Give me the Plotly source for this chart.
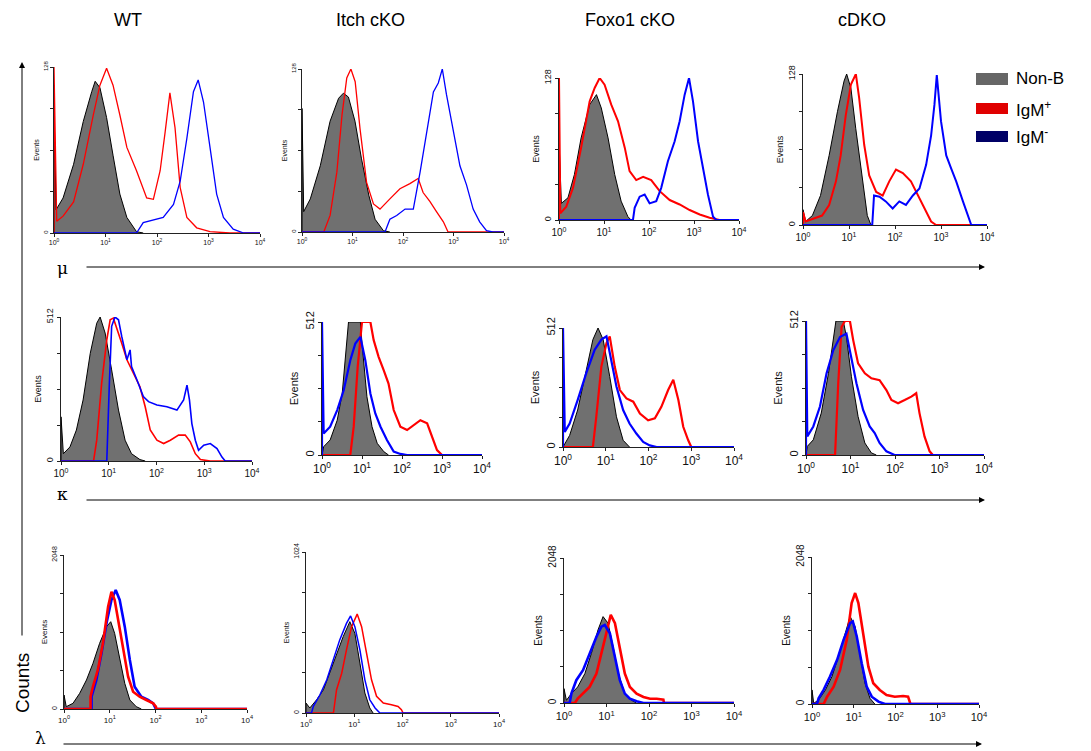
import plotly.graph_objects as go

W, H = 1091, 751

# ---------------- column / row labels ----------------
columns = ["WT", "Itch cKO", "Foxo1 cKO", "cDKO"]
rows = ["μ", "κ", "λ"]
series_names = ["Non-B", "IgM<sup>+</sup>", "IgM<sup>-</sup>"]
x_tick_vals = [1, 10, 100, 1000, 10000]
x_tick_text = ["10<sup>0</sup>", "10<sup>1</sup>", "10<sup>2</sup>", "10<sup>3</sup>", "10<sup>4</sup>"]
y_max = [128, 128, 128, 128, 512, 512, 512, 512, 2048, 1024, 2048, 2048]

# ---------------- data (intensity, events) ----------------
# Row 1 : mu
p1_nonb_x = [1, 1, 1.1, 1.5, 2.4, 3.7, 5.4, 6.3, 7.8, 10.5, 14, 19, 26, 40, 54]
p1_nonb_y = [0, 98, 18, 27, 53, 86, 109, 117, 112, 89, 60, 30, 12, 1, 0]
p1_igmp_x = [1, 1, 1.13, 1.5, 2.4, 3.7, 5.8, 7.8, 10.5, 14, 19, 26, 40, 63, 85, 115, 144, 178, 224, 282, 380, 590, 1070, 2600, 10000]
p1_igmp_y = [0, 128, 9, 13, 24, 53, 91, 114, 127, 114, 91, 66, 48, 27, 26, 48, 78, 108, 81, 35, 12, 4, 1, 0, 0]
p1_igmn_x = [1, 40, 54, 85, 132, 209, 282, 380, 510, 630, 800, 1070, 1440, 1950, 3020, 4800, 10000]
p1_igmn_y = [0, 0, 8, 10, 12, 22, 40, 73, 109, 118, 101, 66, 30, 12, 3, 0, 0]

p2_nonb_x = [1, 1, 1.08, 1.46, 2.3, 3.6, 5.3, 6.6, 8.3, 11.2, 15, 21, 28, 41, 55]
p2_nonb_y = [0, 97, 16, 26, 52, 87, 105, 109, 106, 87, 58, 29, 10, 1, 0]
p2_igmp_x = [1, 2.7, 3.6, 4.9, 6.2, 7.7, 9.3, 11.3, 14.1, 19, 26, 35, 55, 87, 137, 200, 250, 340, 460, 630, 780, 10000]
p2_igmp_y = [0, 0, 13, 47, 92, 121, 128, 118, 81, 39, 22, 18, 26, 34, 38, 42, 31, 24, 16, 8, 0, 0]
p2_igmn_x = [1, 44, 55, 75, 110, 160, 218, 295, 400, 500, 600, 725, 980, 1340, 1810, 2450, 3300, 4500, 6000, 10000]
p2_igmn_y = [0, 0, 10, 13, 18, 18, 47, 79, 110, 117, 128, 108, 79, 52, 37, 18, 8, 1, 0, 0]

p3_nonb_x = [1, 1, 1.13, 1.58, 2.2, 3.1, 4.8, 6.8, 8.7, 12.3, 17.3, 24, 34, 40]
p3_nonb_y = [0, 72, 15, 20, 41, 74, 104, 113, 101, 74, 41, 17, 3, 0]
p3_igmp_x = [1, 1, 1.07, 1.45, 2.05, 3.1, 4.8, 6.2, 8, 10.3, 14.5, 20.5, 29, 37, 52, 74, 112, 173, 288, 480, 800, 1340, 2220, 3700, 10000]
p3_igmp_y = [0, 128, 6, 12, 29, 65, 107, 119, 128, 122, 104, 89, 65, 44, 36, 39, 36, 26, 18, 14, 9, 5, 2, 0, 0]
p3_igmn_x = [1, 44, 48, 62, 80, 103, 145, 187, 263, 372, 480, 620, 775, 950, 1230, 1590, 2040, 2650, 3150, 10000]
p3_igmn_y = [0, 0, 11, 21, 23, 15, 17, 29, 53, 71, 89, 113, 128, 107, 71, 47, 23, 3, 0, 0]

p4_nonb_x = [1, 1, 1.14, 1.6, 2.4, 3.7, 5.6, 7.8, 8.9, 11, 14, 19.7, 25, 30]
p4_nonb_y = [0, 13, 3, 8, 25, 59, 96, 122, 128, 116, 82, 37, 8, 0]
p4_igmp_x = [1, 1, 1.14, 1.9, 2.6, 3.7, 5.2, 6.6, 8.5, 11, 14.1, 16.6, 21.4, 27.5, 39, 54, 75, 105, 148, 222, 340, 475, 610, 780, 10000]
p4_igmp_y = [0, 11, 3, 6, 8, 17, 37, 59, 93, 119, 128, 108, 68, 42, 28, 25, 37, 47, 44, 37, 23, 11, 3, 0, 0]
p4_igmn_x = [1, 32, 35, 46, 63, 89, 124, 173, 245, 340, 475, 610, 720, 810, 1000, 1300, 1660, 2140, 3000, 3880, 4550, 10000]
p4_igmn_y = [0, 0, 25, 24, 20, 14, 20, 17, 25, 31, 51, 76, 102, 127, 88, 59, 48, 37, 20, 8, 0, 0]

# Row 2 : kappa
p5_nonb_x = [1, 1, 1.12, 1.54, 2.1, 2.9, 4.1, 5.6, 6.6, 8.4, 11.5, 16, 22, 30, 45, 58]
p5_nonb_y = [0, 157, 26, 50, 110, 217, 383, 490, 512, 455, 324, 181, 74, 26, 5, 0]
p5_igmp_x = [1, 4.8, 5.6, 7.1, 9.1, 10.7, 12.5, 15.2, 18.7, 24, 33, 45, 58, 74, 102, 141, 195, 290, 400, 510, 650, 830, 1340, 10000]
p5_igmp_y = [0, 0, 74, 276, 431, 502, 508, 467, 419, 360, 312, 264, 193, 110, 74, 62, 74, 92, 92, 68, 26, 5, 0, 0]
p5_igmn_x = [1, 9.1, 10.3, 11.5, 13.5, 16, 18.7, 24, 28, 30, 39, 53, 68, 102, 165, 268, 370, 435, 490, 550, 650, 760, 975, 1340, 1850, 2350, 2750, 10000]
p5_igmn_y = [0, 0, 276, 479, 512, 502, 443, 360, 395, 336, 288, 229, 211, 199, 193, 181, 217, 270, 217, 133, 74, 38, 56, 62, 44, 14, 0, 0]

p6_nonb_x = [1, 1.1, 1.6, 2.4, 3.2, 3.8, 4.6, 9.1, 10, 13.3, 17.8, 24, 35, 46]
p6_nonb_y = [0, 32, 58, 134, 237, 365, 512, 512, 429, 224, 109, 45, 13, 0]
p6_igmp_x = [1, 5.1, 6.2, 7.8, 10, 16.2, 19.6, 26, 35, 46, 62, 91, 134, 196, 288, 425, 560, 750, 1000, 10000]
p6_igmp_y = [0, 0, 109, 339, 512, 512, 442, 378, 326, 275, 173, 109, 96, 115, 134, 122, 70, 19, 0, 0]
p6_igmn_x = [1, 1, 1.1, 1.6, 2.4, 3.5, 5.1, 6.8, 9.1, 12.1, 16.2, 21.5, 29, 42, 62, 91, 134, 10000]
p6_igmn_y = [0, 512, 83, 109, 173, 250, 365, 429, 455, 365, 237, 160, 109, 58, 13, 4, 0, 0]

p7_nonb_x = [1, 1.1, 1.43, 2.2, 3.5, 5.0, 6.6, 8.7, 12.4, 17.8, 25.5, 36]
p7_nonb_y = [0, 14, 50, 159, 332, 462, 512, 462, 303, 130, 29, 0]
p7_igmp_x = [1, 5.0, 6.0, 7.9, 10.4, 12.4, 16.2, 21.4, 30.5, 44, 63, 98, 141, 200, 288, 380, 500, 650, 850, 1000, 10000]
p7_igmp_y = [0, 0, 130, 346, 447, 476, 346, 245, 209, 195, 144, 115, 123, 173, 245, 289, 202, 87, 29, 0, 0]
p7_igmn_x = [1, 1, 1.1, 1.43, 2.2, 3.5, 5.5, 7.9, 10.4, 13.6, 17.8, 25.5, 36, 52, 75, 107, 155, 10000]
p7_igmn_y = [0, 512, 65, 101, 202, 318, 418, 462, 476, 375, 260, 159, 101, 58, 22, 7, 0, 0]

p8_nonb_x = [1, 1.07, 1.46, 2.2, 3.2, 4.1, 4.7, 6.9, 8.1, 10.5, 14.8, 21, 29.5, 38]
p8_nonb_y = [0, 33, 58, 160, 312, 451, 512, 512, 451, 299, 147, 46, 8, 0]
p8_igmp_x = [1, 4.5, 5.3, 6.3, 7.5, 9.7, 11.5, 14.8, 21, 29.5, 45, 64, 83, 117, 165, 233, 300, 355, 460, 600, 710, 10000]
p8_igmp_y = [0, 0, 274, 489, 512, 512, 439, 350, 312, 293, 286, 248, 210, 198, 210, 223, 236, 160, 71, 14, 0, 0]
p8_igmn_x = [1, 1, 1.07, 1.46, 2.06, 2.9, 4.1, 5.8, 8.1, 10.5, 13.6, 19.2, 27, 35, 45, 64, 98, 10000]
p8_igmn_y = [0, 512, 71, 109, 185, 312, 400, 451, 464, 375, 274, 172, 109, 84, 46, 14, 0, 0]

# Row 3 : lambda
p9_nonb_x = [1, 1, 1.12, 1.57, 2.2, 3.1, 4.3, 6.0, 8.5, 10.5, 12.8, 16.5, 21.3, 27.5, 38, 49]
p9_nonb_y = [0, 186, 31, 75, 208, 386, 607, 873, 1095, 1161, 1006, 696, 341, 120, 31, 0]
p9_igmp_x = [1, 3.8, 3.8, 4.3, 5.5, 7.1, 9.2, 10.9, 12.8, 15.2, 19.6, 25.2, 32.4, 45, 63, 89, 102, 105, 10000]
p9_igmp_y = [0, 0, 164, 297, 519, 873, 1361, 1560, 1450, 1183, 785, 430, 230, 164, 120, 75, 31, 0, 0]
p9_igmn_x = [1, 4.0, 4.0, 5.1, 6.6, 8.5, 10.9, 13.5, 16.5, 21.3, 27.5, 35, 49, 69, 89, 102, 10000]
p9_igmn_y = [0, 0, 164, 386, 740, 1139, 1450, 1582, 1450, 1095, 652, 297, 164, 120, 75, 0, 0]

p10_nonb_x = [1, 1, 1.2, 1.66, 2.3, 3.1, 4.3, 5.9, 8.1, 10.3, 13.1, 16.6, 21, 24.6]
p10_nonb_y = [0, 63, 32, 84, 148, 253, 380, 486, 581, 507, 317, 127, 32, 0]
p10_igmp_x = [1, 3.7, 4.3, 5.5, 6.9, 8.8, 11.5, 14.2, 18.0, 22.8, 29, 40, 59, 81, 95, 103, 10000]
p10_igmp_y = [0, 0, 148, 253, 401, 549, 629, 549, 380, 211, 106, 63, 53, 42, 21, 0, 0]
p10_igmn_x = [1, 1.3, 1.42, 1.95, 2.7, 3.7, 5.0, 6.9, 8.4, 10.3, 13.1, 16.6, 21, 27, 34, 10000]
p10_igmn_y = [0, 0, 42, 116, 211, 338, 465, 570, 617, 549, 401, 211, 84, 32, 0, 0]

p11_nonb_x = [1, 1, 1.14, 1.49, 2.1, 3.1, 4.4, 6.3, 8.3, 10.9, 14.3, 19, 27, 39, 51]
p11_nonb_y = [0, 203, 38, 132, 227, 416, 700, 1031, 1220, 1126, 795, 416, 132, 38, 0]
p11_igmp_x = [1, 1.8, 2.1, 2.8, 4.0, 5.8, 7.6, 10, 12.6, 15.8, 20.6, 27, 35.5, 51, 74, 106, 152, 218, 225, 10000]
p11_igmp_y = [0, 0, 61, 132, 227, 416, 700, 1031, 1244, 1126, 795, 416, 227, 132, 85, 61, 61, 47, 0, 0]
p11_igmn_x = [1, 1.36, 1.49, 1.95, 2.8, 4.0, 5.8, 7.6, 9.1, 12, 15.8, 20.6, 27, 35.5, 51, 74, 10000]
p11_igmn_y = [0, 0, 132, 322, 464, 700, 937, 1079, 1102, 984, 653, 322, 132, 61, 24, 0, 0]

p12_nonb_x = [1, 1, 1.1, 1.44, 2.1, 3.0, 4.3, 6.2, 8.2, 10.8, 14.1, 18.6, 24.5, 32]
p12_nonb_y = [0, 196, 10, 56, 196, 382, 661, 987, 1220, 1080, 708, 289, 79, 0]
p12_igmp_x = [1, 1.9, 2.3, 3.3, 4.7, 6.8, 8.9, 10.8, 12.9, 17, 22.4, 29.4, 42, 61, 96, 152, 200, 228, 10000]
p12_igmp_y = [0, 0, 102, 242, 475, 894, 1406, 1546, 1406, 940, 521, 289, 196, 126, 102, 112, 102, 0, 0]
p12_igmn_x = [1, 1.32, 1.44, 1.9, 2.7, 4.0, 5.7, 8.2, 9.5, 11.8, 15.5, 20.4, 27, 39, 56, 10000]
p12_igmn_y = [0, 0, 79, 196, 382, 615, 894, 1127, 1150, 940, 568, 242, 102, 33, 0, 0]

panel_data = [
    (p1_nonb_x, p1_nonb_y, p1_igmp_x, p1_igmp_y, p1_igmn_x, p1_igmn_y),
    (p2_nonb_x, p2_nonb_y, p2_igmp_x, p2_igmp_y, p2_igmn_x, p2_igmn_y),
    (p3_nonb_x, p3_nonb_y, p3_igmp_x, p3_igmp_y, p3_igmn_x, p3_igmn_y),
    (p4_nonb_x, p4_nonb_y, p4_igmp_x, p4_igmp_y, p4_igmn_x, p4_igmn_y),
    (p5_nonb_x, p5_nonb_y, p5_igmp_x, p5_igmp_y, p5_igmn_x, p5_igmn_y),
    (p6_nonb_x, p6_nonb_y, p6_igmp_x, p6_igmp_y, p6_igmn_x, p6_igmn_y),
    (p7_nonb_x, p7_nonb_y, p7_igmp_x, p7_igmp_y, p7_igmn_x, p7_igmn_y),
    (p8_nonb_x, p8_nonb_y, p8_igmp_x, p8_igmp_y, p8_igmn_x, p8_igmn_y),
    (p9_nonb_x, p9_nonb_y, p9_igmp_x, p9_igmp_y, p9_igmn_x, p9_igmn_y),
    (p10_nonb_x, p10_nonb_y, p10_igmp_x, p10_igmp_y, p10_igmn_x, p10_igmn_y),
    (p11_nonb_x, p11_nonb_y, p11_igmp_x, p11_igmp_y, p11_igmn_x, p11_igmn_y),
    (p12_nonb_x, p12_nonb_y, p12_igmp_x, p12_igmp_y, p12_igmn_x, p12_igmn_y),
]

# ---------------- layout geometry (pixels) ----------------
# left, right, top, bottom of each plot area
panel_px = [
    (54, 260, 67, 233), (302, 504, 69, 232), (559, 739, 78, 220), (803, 987, 74, 225),
    (61, 252, 317, 461), (322, 482, 322, 455), (563, 734, 328, 447), (806, 984, 321, 455),
    (64, 247, 555, 709), (306, 499, 552, 713), (564, 734, 558, 703), (812, 979, 557, 704),
]
tick_font = [6, 6, 9, 9, 9, 11, 11, 11, 7, 7, 10, 10]
title_font = [7, 7, 9, 9, 9, 11, 11, 11, 8, 7, 10, 10]
line_w = [1.3, 1.3, 2, 2, 1.6, 2.2, 2.2, 2.2, 2.6, 1.5, 2.6, 2.6]
red_on_top = [False] * 8 + [True, False, False, False]

GRAY_FILL = "#707070"
RED = "#ff0000"
BLUE = "#0000ff"

fig = go.Figure()
layout_axes = {}

for i, (l, r, t, b) in enumerate(panel_px):
    n = i + 1
    xa = "x" if n == 1 else f"x{n}"
    ya = "y" if n == 1 else f"y{n}"
    nbx, nby, px_, py_, nx_, ny_ = panel_data[i]

    fig.add_trace(go.Scatter(x=nbx, y=nby, xaxis=xa, yaxis=ya, mode="lines",
                             fill="tozeroy", fillcolor=GRAY_FILL,
                             line=dict(color="black", width=1), showlegend=False,
                             hoverinfo="skip"))
    red_tr = go.Scatter(x=px_, y=py_, xaxis=xa, yaxis=ya, mode="lines",
                        line=dict(color=RED, width=line_w[i]), showlegend=False)
    blue_tr = go.Scatter(x=nx_, y=ny_, xaxis=xa, yaxis=ya, mode="lines",
                         line=dict(color=BLUE, width=line_w[i]), showlegend=False)
    if red_on_top[i]:
        fig.add_trace(blue_tr)
        fig.add_trace(red_tr)
    else:
        fig.add_trace(red_tr)
        fig.add_trace(blue_tr)

    ym = y_max[i]
    xkey = "xaxis" if n == 1 else f"xaxis{n}"
    ykey = "yaxis" if n == 1 else f"yaxis{n}"
    layout_axes[xkey] = dict(
        domain=[l / W, r / W], anchor=ya, type="log", range=[0, 4], automargin=False,
        showgrid=False, zeroline=False, showline=True, linecolor="#222", linewidth=1,
        ticks="outside", ticklen=3, tickcolor="#222",
        tickvals=x_tick_vals, ticktext=x_tick_text,
        tickfont=dict(size=tick_font[i] + 1, color="#111", family="Liberation Sans"),
    )
    layout_axes[ykey] = dict(
        domain=[1 - b / H, 1 - t / H], anchor=xa, range=[0, ym], automargin=False,
        showgrid=False, zeroline=False, showline=True, linecolor="#222", linewidth=1,
        ticks="outside", ticklen=3, tickcolor="#222",
        tickvals=[0, ym], ticktext=["0", str(ym)], tickangle=-90,
        minor=dict(tickvals=[ym / 4, ym / 2, 3 * ym / 4], ticks="outside",
                   ticklen=3, tickcolor="#222"),
        tickfont=dict(size=tick_font[i], color="#111", family="Liberation Sans"),
        title=dict(text="Events", standoff=2,
                   font=dict(size=title_font[i], color="#111", family="Liberation Sans")),
    )

fig.update_layout(**layout_axes)

annotations = []
col_x = [128, 370, 630, 862]
for name, cx in zip(columns, col_x):
    annotations.append(dict(x=cx / W, y=1 - 20 / H, xref="paper", yref="paper",
                            text=name, showarrow=False, xanchor="center", yanchor="middle",
                            font=dict(size=18, color="black", family="Liberation Sans")))

# row axis labels and arrows
row_label_pos = [(62, 268), (62, 494), (40, 738)]
row_arrows = [(85, 985, 267), (85, 985, 500), (62, 982, 744)]
for lab, (lx, ly), (ax0, ax1, ay) in zip(rows, row_label_pos, row_arrows):
    annotations.append(dict(x=lx / W, y=1 - ly / H, xref="paper", yref="paper",
                            text=lab, showarrow=False, xanchor="center", yanchor="middle",
                            font=dict(size=17, color="black", family="DejaVu Serif")))
    annotations.append(dict(x=ax1 / W, y=1 - ay / H, xref="paper", yref="paper",
                            text="", showarrow=True, ax=-(ax1 - ax0), ay=0,
                            arrowhead=2, arrowsize=1.2, arrowwidth=1, arrowcolor="black"))

# vertical Counts arrow
annotations.append(dict(x=22 / W, y=1 - 62 / H, xref="paper", yref="paper",
                        text="", showarrow=True, ax=0, ay=575,
                        arrowhead=2, arrowsize=1.2, arrowwidth=1, arrowcolor="black"))
annotations.append(dict(x=22 / W, y=1 - 683 / H, xref="paper", yref="paper",
                        text="Counts", textangle=-90, showarrow=False,
                        xanchor="center", yanchor="middle",
                        font=dict(size=19, color="black", family="Liberation Sans")))

# legend (manual)
legend_colors = ["#666666", "#e00000", "#000066"]
legend_rows = [(73, 85), (103, 114), (131, 142)]
shapes = []
for lab, col, (y0, y1) in zip(series_names, legend_colors, legend_rows):
    shapes.append(dict(type="rect", xref="paper", yref="paper",
                       x0=976 / W, x1=1008 / W, y0=1 - y1 / H, y1=1 - y0 / H,
                       fillcolor=col, line=dict(width=0)))
    annotations.append(dict(x=1014 / W, y=1 - (y0 + y1) / 2 / H, xref="paper", yref="paper",
                            text=lab, showarrow=False, xanchor="left", yanchor="middle",
                            font=dict(size=17, color="black", family="Liberation Sans")))

fig.update_layout(
    width=W, height=H, autosize=False,
    margin=dict(l=0, r=0, t=0, b=0, pad=0),
    paper_bgcolor="white", plot_bgcolor="white",
    showlegend=False,
    annotations=annotations, shapes=shapes,
    font=dict(family="Liberation Sans", color="black"),
)

fig.write_html("out.html",
               config={"displayModeBar": False},
               post_script="document.body.style.margin='0';document.body.style.overflow='hidden';")
